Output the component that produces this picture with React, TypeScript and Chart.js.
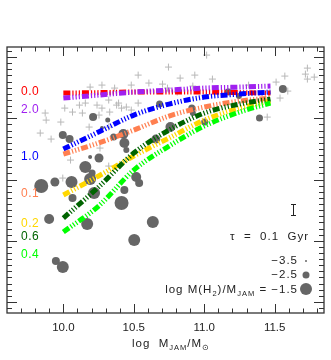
import React, { useEffect, useRef } from 'react';
import { Chart, registerables } from 'chart.js';
Chart.register(...registerables);

// ---- model tracks (x = log M_JAM, y = unlabeled colour axis) ----
const lineMass = [10.0, 10.25, 10.5, 10.75, 11.0, 11.25, 11.47];
const line00 = [4.412, 4.420, 4.429, 4.429, 4.429, 4.420, 4.412];
const line20 = [4.331, 4.380, 4.429, 4.461, 4.494, 4.510, 4.527];
const line10 = [3.498, 3.776, 4.053, 4.233, 4.347, 4.396, 4.429];
const line01 = [3.416, 3.596, 3.808, 4.037, 4.184, 4.282, 4.331];
const line02 = [2.747, 3.057, 3.384, 3.678, 3.971, 4.167, 4.282];
const line06 = [2.371, 2.878, 3.433, 3.808, 4.086, 4.233, 4.314];
const line04 = [2.143, 2.567, 3.155, 3.547, 3.873, 4.102, 4.249];
const lineLabels = ['0.0', '2.0', '1.0', '0.1', '0.2', '0.6', '0.4'];
const lineColors = ['#ff0000', '#a020f0', '#0000ff', '#ff7f50', '#ffd700', '#006400', '#00ff00'];
const labelY = [4.429, 4.135, 3.367, 2.763, 2.273, 2.061, 1.767];

// ---- grey crosses (galaxies without gas detection) ----
const crossX = [9.836, 9.871, 9.878, 9.913, 9.982, 10.010, 10.065, 10.114, 10.135, 10.156, 10.183, 10.190, 10.239, 10.253, 10.274, 10.274, 10.322, 10.329, 10.364, 10.378, 10.392, 10.413, 10.447, 10.482, 10.482, 10.531, 10.531, 10.607, 10.704, 10.739, 10.746, 10.808, 10.829, 10.933, 11.017, 11.058, 11.190, 11.315, 11.447, 11.510, 11.538, 11.572, 11.593, 11.718, 11.732, 11.732, 11.781, 9.996, 10.051, 10.260, 10.322, 10.322, 10.919];
const crossY = [3.759, 4.086, 3.971, 3.661, 3.939, 4.167, 4.102, 4.216, 4.086, 4.249, 3.857, 4.510, 4.216, 4.053, 4.543, 4.167, 4.298, 4.102, 4.494, 4.216, 4.249, 4.167, 4.184, 4.543, 4.135, 4.706, 4.249, 4.576, 4.559, 4.494, 4.837, 4.429, 4.657, 4.706, 5.033, 4.641, 4.478, 4.543, 4.020, 4.592, 4.331, 4.690, 4.445, 4.722, 4.820, 4.641, 4.673, 3.024, 3.318, 3.514, 3.220, 3.857, 4.527];

// ---- grey circles (gas detected), size = log M(H2)/M_JAM ----
const dotX = [9.843, 9.940, 10.058, 9.996, 10.044, 10.211, 10.315, 10.274, 10.357, 10.426, 10.156, 10.253, 10.190, 10.204, 10.447, 10.433, 10.517, 10.538, 10.433, 10.413, 10.683, 10.912, 10.919, 10.760, 11.003, 11.169, 11.246, 11.558, 11.392, 10.656, 10.065, 9.899, 10.169, 10.218, 10.635, 10.503, 9.947, 9.996, 10.190];
const dotY = [2.894, 2.959, 2.959, 3.727, 3.661, 4.020, 3.971, 3.841, 3.694, 3.743, 3.204, 3.351, 3.367, 3.106, 3.482, 3.596, 3.041, 2.943, 2.829, 2.616, 4.233, 4.167, 4.086, 3.857, 3.939, 4.429, 4.363, 4.478, 4.004, 3.661, 2.698, 2.355, 2.273, 2.780, 2.306, 2.012, 1.669, 1.571, 3.008];
const dotGas = [-1.1, -2.1, -1.5, -2.3, -2.3, -2.3, -2.9, -3.1, -2.5, -1.9, -1.5, -2.1, -3.1, -2.5, -2.7, -1.9, -1.9, -2.3, -2.3, -1.1, -2.5, -2.5, -2.7, -1.9, -2.5, -2.5, -2.7, -2.3, -2.5, -2.1, -2.3, -1.9, -1.5, -1.5, -1.5, -1.5, -2.3, -1.5, -1.5];

const legendGas = [-3.5, -2.5, -1.5];
const legendText = ['\u22123.5', '\u22122.5', '\u22121.5'];

const xTickValues = [10.0, 10.5, 11.0, 11.5];
const xTickLabels = ['10.0', '10.5', '11.0', '11.5'];

const gasRadius = (g: number) => Math.max(1, 2.5 * (g + 3.9));

const FONT = '"Liberation Sans", Arial, sans-serif';

type Part = { t: string; sub?: boolean };

function measureParts(ctx: CanvasRenderingContext2D, parts: Part[], size: number, subSize: number) {
  let w = 0;
  for (const p of parts) {
    ctx.font = `${p.sub ? subSize : size}px ${FONT}`;
    w += ctx.measureText(p.t).width;
  }
  return w;
}

function drawParts(ctx: CanvasRenderingContext2D, parts: Part[], x: number, y: number, align: 'left' | 'right' | 'center', size: number, subSize: number) {
  const w = measureParts(ctx, parts, size, subSize);
  let cx = align === 'left' ? x : align === 'right' ? x - w : x - w / 2;
  ctx.textAlign = 'left';
  ctx.textBaseline = 'alphabetic';
  for (const p of parts) {
    ctx.font = `${p.sub ? subSize : size}px ${FONT}`;
    ctx.fillText(p.t, cx, p.sub ? y + 3 : y);
    cx += ctx.measureText(p.t).width;
  }
}

const framePlugin = {
  id: 'framePlugin',
  afterDraw(chart: any) {
    const { ctx, chartArea: a, scales } = chart;
    const xs = scales.x;
    const ys = scales.y;
    ctx.save();
    ctx.strokeStyle = '#333333';
    ctx.lineWidth = 1.3;
    ctx.strokeRect(a.left, a.top, a.right - a.left, a.bottom - a.top);
    ctx.lineWidth = 1;
    ctx.beginPath();
    for (let k = 97; k <= 118; k++) {
      const px = Math.round(xs.getPixelForValue(k / 10)) + 0.5;
      const len = k % 5 === 0 ? 9 : 4.5;
      ctx.moveTo(px, a.bottom); ctx.lineTo(px, a.bottom - len);
      ctx.moveTo(px, a.top); ctx.lineTo(px, a.top + len);
    }
    for (let k = 9; k <= 51; k++) {
      const py = Math.round(ys.getPixelForValue(k / 10)) + 0.5;
      const len = k % 10 === 0 ? 10 : 5;
      ctx.moveTo(a.left, py); ctx.lineTo(a.left + len, py);
      ctx.moveTo(a.right, py); ctx.lineTo(a.right - len, py);
    }
    ctx.stroke();

    // x tick labels
    ctx.fillStyle = '#222222';
    ctx.font = `11.5px ${FONT}`;
    ctx.textAlign = 'center';
    ctx.textBaseline = 'alphabetic';
    xTickValues.forEach((v, i) => {
      ctx.fillText(xTickLabels[i], xs.getPixelForValue(v), a.bottom + 18);
    });

    // x title
    (ctx as any).letterSpacing = '1px';
    drawParts(ctx, [{ t: 'log  M' }, { t: 'JAM', sub: true }, { t: '/M' }, { t: '\u2299', sub: true }], 171, a.bottom + 34, 'center', 11.5, 7.5);

    // track labels
    (ctx as any).letterSpacing = '0.5px';
    ctx.font = `12px ${FONT}`;
    ctx.textAlign = 'left';
    ctx.textBaseline = 'middle';
    lineLabels.forEach((lab, i) => {
      ctx.fillStyle = lineColors[i];
      ctx.fillText(lab, a.left + 14, ys.getPixelForValue(labelY[i]));
    });

    // error bar
    ctx.strokeStyle = '#222222';
    ctx.lineWidth = 1;
    ctx.beginPath();
    ctx.moveTo(293.5, 204); ctx.lineTo(293.5, 216);
    ctx.moveTo(291, 204.5); ctx.lineTo(296, 204.5);
    ctx.moveTo(291, 215.5); ctx.lineTo(296, 215.5);
    ctx.stroke();

    // tau text
    (ctx as any).letterSpacing = '1px';
    ctx.fillStyle = '#222222';
    ctx.font = `11.5px ${FONT}`;
    ctx.textAlign = 'right';
    ctx.textBaseline = 'middle';
    ctx.fillText('\u03c4  =  0.1  Gyr', 309, 237);

    // size legend
    const rowsY = [261, 275, 289];
    legendGas.forEach((g, i) => {
      ctx.fillStyle = '#222222';
      if (i < 2) {
        ctx.font = `11.5px ${FONT}`;
        ctx.textAlign = 'right';
        ctx.textBaseline = 'middle';
        ctx.fillText(legendText[i], 298, rowsY[i]);
      } else {
        drawParts(ctx, [{ t: 'log M(H' }, { t: '2', sub: true }, { t: ')/M' }, { t: 'JAM', sub: true }, { t: ' = ' + legendText[i] }], 298, rowsY[i] + 4, 'right', 11.5, 7.5);
      }
      ctx.fillStyle = '#666666';
      ctx.beginPath();
      ctx.arc(306, rowsY[i], gasRadius(g), 0, Math.PI * 2);
      ctx.fill();
    });
    (ctx as any).letterSpacing = '0px';
    ctx.restore();
  },
};

export default function App() {
  const ref = useRef<HTMLCanvasElement | null>(null);
  useEffect(() => {
    if (!ref.current) return;
    const tracks = [line00, line20, line10, line01, line02, line06, line04];
    const lineSets = tracks.map((ys, i) => ({
      type: 'line' as const,
      label: lineLabels[i],
      data: lineMass.map((x, j) => ({ x, y: ys[j] })),
      borderColor: lineColors[i],
      borderWidth: 5,
      borderDash: [7, 2, 1.2, 2, 1.2, 2, 1.2, 2],
      borderCapStyle: 'butt' as const,
      pointRadius: 0,
      fill: false,
      cubicInterpolationMode: 'monotone' as const,
      order: 8 - i,
    }));
    const chart = new Chart(ref.current, {
      type: 'scatter',
      data: {
        datasets: [
          ...lineSets,
          {
            type: 'scatter',
            label: 'undetected',
            data: crossX.map((x, i) => ({ x, y: crossY[i] })),
            pointStyle: 'cross',
            pointRadius: 3.5,
            borderColor: '#b8b8b8',
            borderWidth: 1,
            order: 20,
          },
          {
            type: 'scatter',
            label: 'detected',
            data: dotX.map((x, i) => ({ x, y: dotY[i] })),
            pointStyle: 'circle',
            pointRadius: dotGas.map(gasRadius),
            backgroundColor: '#666666',
            borderWidth: 0,
            order: 15,
          },
        ] as any,
      },
      options: {
        responsive: false,
        animation: false,
        devicePixelRatio: 1,
        events: [],
        layout: { padding: { left: 3, right: 4, top: 47, bottom: 47 } },
        scales: {
          x: { type: 'linear', min: 9.6, max: 11.85, display: false },
          y: { type: 'linear', min: 0.82, max: 5.165, display: false },
        },
        plugins: { legend: { display: false }, tooltip: { enabled: false } },
      },
      plugins: [framePlugin],
    });
    return () => chart.destroy();
  }, []);
  return (
    <div style={{ position: 'fixed', left: 0, top: 0, width: 331, height: 360, background: '#ffffff' }}>
      <canvas ref={ref} width={331} height={360} style={{ display: 'block', width: 331, height: 360 }} />
    </div>
  );
}
